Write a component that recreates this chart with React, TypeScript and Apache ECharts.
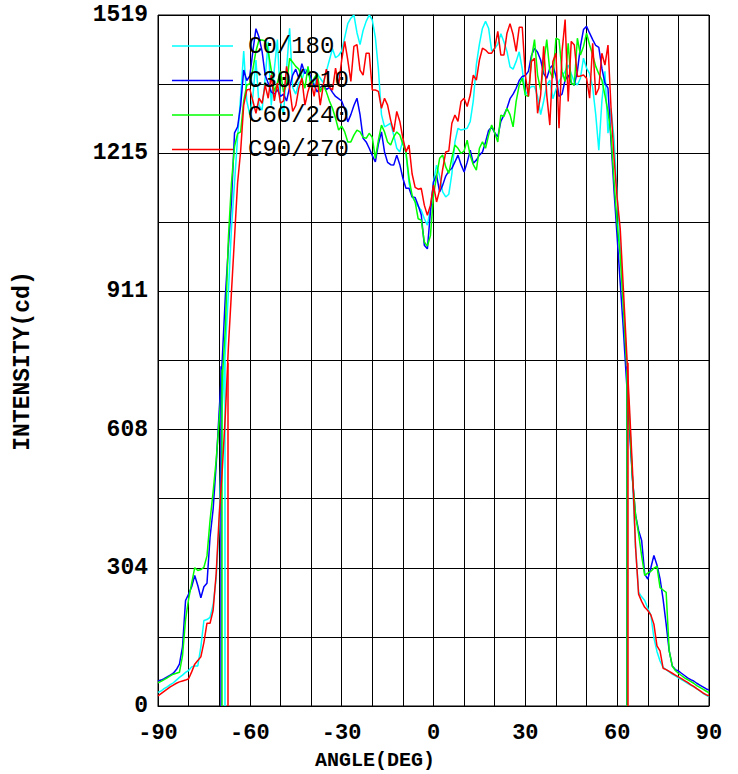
import React, { useEffect, useRef } from "react";
import * as echarts from "echarts";

// Angles: one sample per degree from -90 to 90
const ANGLE_START = -90;
const ANGLE_END = 90;

const C0_180 = [
  30, 33, 38, 42, 47, 51, 57, 63, 68, 74,
  78, 86, 88, 88, 130, 188, 190, 195, 222, 280,
  400, 660, 780, 910, 1050, 1150, 1250, 1340, 1440, 1330,
  1300, 1340, 1420, 1320, 1310, 1380, 1460, 1320, 1400, 1465,
  1330, 1300, 1400, 1490, 1360, 1345, 1370, 1376, 1400, 1395,
  1370, 1360, 1390, 1380, 1370, 1395, 1420, 1445, 1425, 1430,
  1440, 1470, 1500, 1512, 1519, 1480, 1454, 1485, 1505, 1519,
  1508, 1470, 1400, 1300, 1273, 1277, 1281, 1255, 1226, 1218,
  1244, 1215, 1150, 1120, 1108, 1098, 1090, 1071, 1057, 1093,
  1152, 1189, 1165, 1130, 1119, 1125, 1170, 1240, 1270, 1266,
  1268, 1270, 1285, 1330, 1410, 1455, 1490, 1505, 1490, 1440,
  1445, 1455, 1478, 1460, 1439, 1405, 1400, 1417, 1438, 1400,
  1343, 1355, 1362, 1362, 1340, 1300, 1330, 1365, 1376, 1335,
  1355, 1373, 1384, 1395, 1409, 1390, 1372, 1365, 1380, 1424,
  1402, 1390, 1360, 1300, 1222, 1329, 1395, 1259, 1314, 1245,
  1120, 1010, 890, 770, 640, 500, 350, 250, 240, 232,
  215, 200, 150, 120, 99, 85, 80, 75, 70, 66,
  62, 58, 54, 50, 46, 42, 38, 33, 28, 24,
  20,
];

const C30_210 = [
  55, 57, 60, 64, 68, 72, 80, 92, 130, 232,
  246, 262, 287, 265, 238, 262, 270, 371, 432, 530,
  650, 763, 900, 1010, 1110, 1260, 1273, 1320, 1398, 1375,
  1385, 1440, 1489, 1470, 1439, 1387, 1369, 1350, 1345, 1355,
  1340, 1345, 1330, 1360, 1387, 1400, 1380, 1412, 1390, 1400,
  1380, 1365, 1350, 1360, 1365, 1355, 1360, 1349, 1340, 1335,
  1330, 1312, 1284, 1300, 1320, 1336, 1300, 1248, 1240, 1226,
  1210, 1196, 1235, 1262, 1218, 1195, 1190, 1189, 1211, 1190,
  1160, 1138, 1138, 1119, 1118, 1100, 1080, 1013, 1005, 1086,
  1152, 1167, 1130, 1145, 1165, 1176, 1182, 1196, 1211, 1190,
  1174, 1195, 1222, 1193, 1200, 1211, 1218, 1240, 1265, 1273,
  1260, 1251, 1285, 1299, 1314, 1335, 1345, 1358, 1375, 1384,
  1386, 1395, 1430, 1446, 1437, 1420, 1390, 1380, 1402, 1409,
  1384, 1340, 1345, 1376, 1387, 1370, 1365, 1395, 1450, 1487,
  1494, 1479, 1465, 1452, 1448, 1402, 1370, 1358, 1240, 1130,
  1030, 930, 830, 720, 610, 500, 420, 386, 364, 290,
  279, 304, 331, 310, 280, 235, 180, 121, 88, 80,
  77, 72, 67, 62, 58, 55, 50, 46, 42, 38,
  35,
];

const C60_240 = [
  51, 54, 58, 62, 66, 70, 72, 74, 110, 190,
  235, 270, 304, 298, 300, 305, 330, 408, 470, 540,
  630, 720, 830, 1030, 1150, 1230, 1258, 1262, 1330, 1365,
  1368, 1400, 1440, 1464, 1464, 1462, 1439, 1398, 1351, 1370,
  1395, 1350, 1365, 1424, 1415, 1406, 1400, 1380, 1358, 1406,
  1360, 1380, 1390, 1350, 1365, 1350, 1330, 1314, 1292, 1266,
  1275, 1262, 1240, 1240, 1255, 1266, 1262, 1250, 1248, 1259,
  1250, 1204, 1244, 1277, 1262, 1240, 1233, 1251, 1262, 1255,
  1235, 1218, 1160, 1123, 1108, 1071, 1068, 1020, 1011, 1034,
  1123, 1165, 1204, 1211, 1185, 1171, 1205, 1233, 1226, 1215,
  1220, 1244, 1210, 1190, 1178, 1226, 1240, 1226, 1255, 1277,
  1260, 1240, 1299, 1296, 1314, 1300, 1273, 1329, 1365, 1380,
  1343, 1340, 1424, 1465, 1387, 1354, 1413, 1465, 1395, 1380,
  1468, 1465, 1395, 1373, 1457, 1369, 1365, 1468, 1431, 1450,
  1479, 1453, 1431, 1406, 1390, 1376, 1343, 1307, 1255, 1152,
  1060, 990, 880, 760, 630, 500, 420, 379, 330, 287,
  292, 296, 303, 307, 260, 255, 250, 121, 88, 78,
  72, 67, 62, 58, 54, 50, 45, 41, 37, 33,
  29,
];

const C90_270 = [
  22, 27, 32, 37, 42, 46, 50, 53, 55, 57,
  60, 75, 92, 100, 108, 140, 182, 182, 210, 290,
  420, 520, 640, 790, 910, 1030, 1150, 1220, 1321, 1354,
  1356, 1330, 1303, 1336, 1325, 1365, 1336, 1387, 1330, 1369,
  1325, 1330, 1406, 1358, 1307, 1320, 1358, 1380, 1321, 1351,
  1373, 1340, 1380, 1321, 1365, 1400, 1360, 1354, 1402, 1365,
  1420, 1461, 1420, 1373, 1450, 1454, 1398, 1387, 1435, 1435,
  1354, 1354, 1351, 1314, 1336, 1321, 1288, 1262, 1307, 1285,
  1248, 1218, 1233, 1170, 1140, 1136, 1138, 1101, 1079, 1101,
  1145, 1108, 1134, 1180, 1218, 1220, 1281, 1299, 1285, 1329,
  1336, 1318, 1343, 1387, 1376, 1420, 1446, 1442, 1435, 1435,
  1446, 1483, 1431, 1431, 1479, 1500, 1476, 1439, 1492, 1492,
  1387, 1340, 1417, 1424, 1303, 1343, 1450, 1343, 1277, 1417,
  1435, 1270, 1439, 1509, 1329, 1461, 1453, 1384, 1385, 1387,
  1380, 1336, 1457, 1343, 1358, 1435, 1409, 1453, 1314, 1204,
  1116, 1049, 920, 790, 660, 520, 350, 246, 230, 217,
  210, 200, 180, 132, 121, 83, 80, 76, 72, 68,
  64, 60, 56, 52, 47, 43, 38, 34, 29, 25,
  22,
];

// Half-intensity (beam edge) angles per plane: [left, right]
const EDGE_C0 = [-68.2, 63.2];
const EDGE_C30 = [-69.6, 63.1];
const EDGE_C60 = [-69.3, 63.0];
const EDGE_C90 = [-67.3, 63.5];

const SERIES_NAMES = ["C0/180", "C30/210", "C60/240", "C90/270"];
const SERIES_COLORS = ["#00ffff", "#0000ff", "#00ff00", "#ff0000"];

const Y_MAX = 1519;
const Y_DIVS = 10;

const FONT = "'Liberation Mono', 'DejaVu Sans Mono', monospace";

export default function App() {
  const ref = useRef<HTMLDivElement>(null);

  useEffect(() => {
    if (!ref.current) return;
    const chart = echarts.init(ref.current, undefined, { renderer: "svg" });

    const all = [C0_180, C30_210, C60_240, C90_270];
    const edges = [EDGE_C0, EDGE_C30, EDGE_C60, EDGE_C90];

    const series = all.map((vals, i) => {
      const data = vals.map((v, k) => [ANGLE_START + k, v]);
      const half = Math.max(...vals) / 2;
      return {
        name: SERIES_NAMES[i],
        type: "line",
        data,
        symbol: "none",
        lineStyle: { color: SERIES_COLORS[i], width: 1.5 },
        itemStyle: { color: SERIES_COLORS[i] },
        z: 2 + i,
        markLine: {
          silent: true,
          symbol: "none",
          label: { show: false },
          lineStyle: { color: SERIES_COLORS[i], width: 1.5, type: "solid" },
          data: edges[i].map((a) => [
            { coord: [a, 0] },
            { coord: [a, half] },
          ]),
        },
      };
    });

    // Legend drawn as graphic elements (line + label per plane)
    const LEG_X0 = 172;
    const LEG_X1 = 233;
    const LEG_TEXT_X = 248;
    const LEG_Y0 = 46;
    const LEG_DY = 34.5;
    const legendEls: any[] = [];
    SERIES_NAMES.forEach((n, i) => {
      const y = LEG_Y0 + i * LEG_DY;
      legendEls.push({
        type: "line",
        z: 100,
        shape: { x1: LEG_X0, y1: y, x2: LEG_X1, y2: y },
        style: { stroke: SERIES_COLORS[i], lineWidth: 1.5 },
      });
      legendEls.push({
        type: "text",
        z: 100,
        x: LEG_TEXT_X,
        y,
        style: {
          text: n,
          font: `24px ${FONT}`,
          fill: "#000",
          align: "left",
          verticalAlign: "middle",
        },
      });
    });

    chart.setOption({
      animation: false,
      backgroundColor: "#ffffff",
      grid: {
        left: 158,
        right: 29,
        top: 15,
        bottom: 68,
        show: true,
        borderColor: "#000",
        borderWidth: 1,
        backgroundColor: "transparent",
      },
      xAxis: {
        type: "value",
        min: ANGLE_START,
        max: ANGLE_END,
        interval: 10,
        axisLine: { show: true, lineStyle: { color: "#000", width: 1 } },
        axisTick: { show: false },
        splitLine: { show: true, lineStyle: { color: "#000", width: 1 } },
        axisLabel: {
          interval: 2,
          formatter: (v: number) => (v % 30 === 0 ? String(v) : ""),
          fontFamily: FONT,
          fontWeight: "bold",
          fontSize: 22,
          color: "#000",
          margin: 16,
          showMinLabel: true,
          showMaxLabel: true,
        },
      },
      yAxis: {
        type: "value",
        min: 0,
        max: Y_MAX,
        interval: Y_MAX / Y_DIVS,
        axisLine: { show: true, lineStyle: { color: "#000", width: 1 } },
        axisTick: { show: false },
        splitLine: { show: true, lineStyle: { color: "#000", width: 1 } },
        axisLabel: {
          formatter: (v: number, idx: number) =>
            idx % 2 === 0 ? String(Math.round(v)) : "",
          fontFamily: FONT,
          fontWeight: "bold",
          fontSize: 23,
          color: "#000",
          margin: 10,
          showMinLabel: true,
          showMaxLabel: true,
        },
      },
      graphic: [
        {
          type: "text",
          x: 23,
          y: 361,
          rotation: Math.PI / 2,
          style: {
            text: "INTENSITY(cd)",
            font: `bold 23px ${FONT}`,
            fill: "#000",
            align: "center",
            verticalAlign: "middle",
          },
        },
        {
          type: "text",
          x: 375,
          y: 760,
          style: {
            text: "ANGLE(DEG)",
            font: `bold 20px ${FONT}`,
            fill: "#000",
            align: "center",
            verticalAlign: "middle",
          },
        },
        ...legendEls,
      ],
      series,
    });

    return () => {
      chart.dispose();
    };
  }, []);

  return (
    <div
      ref={ref}
      style={{
        position: "absolute",
        left: 0,
        top: 0,
        width: 738,
        height: 774,
        background: "#fff",
      }}
    />
  );
}
